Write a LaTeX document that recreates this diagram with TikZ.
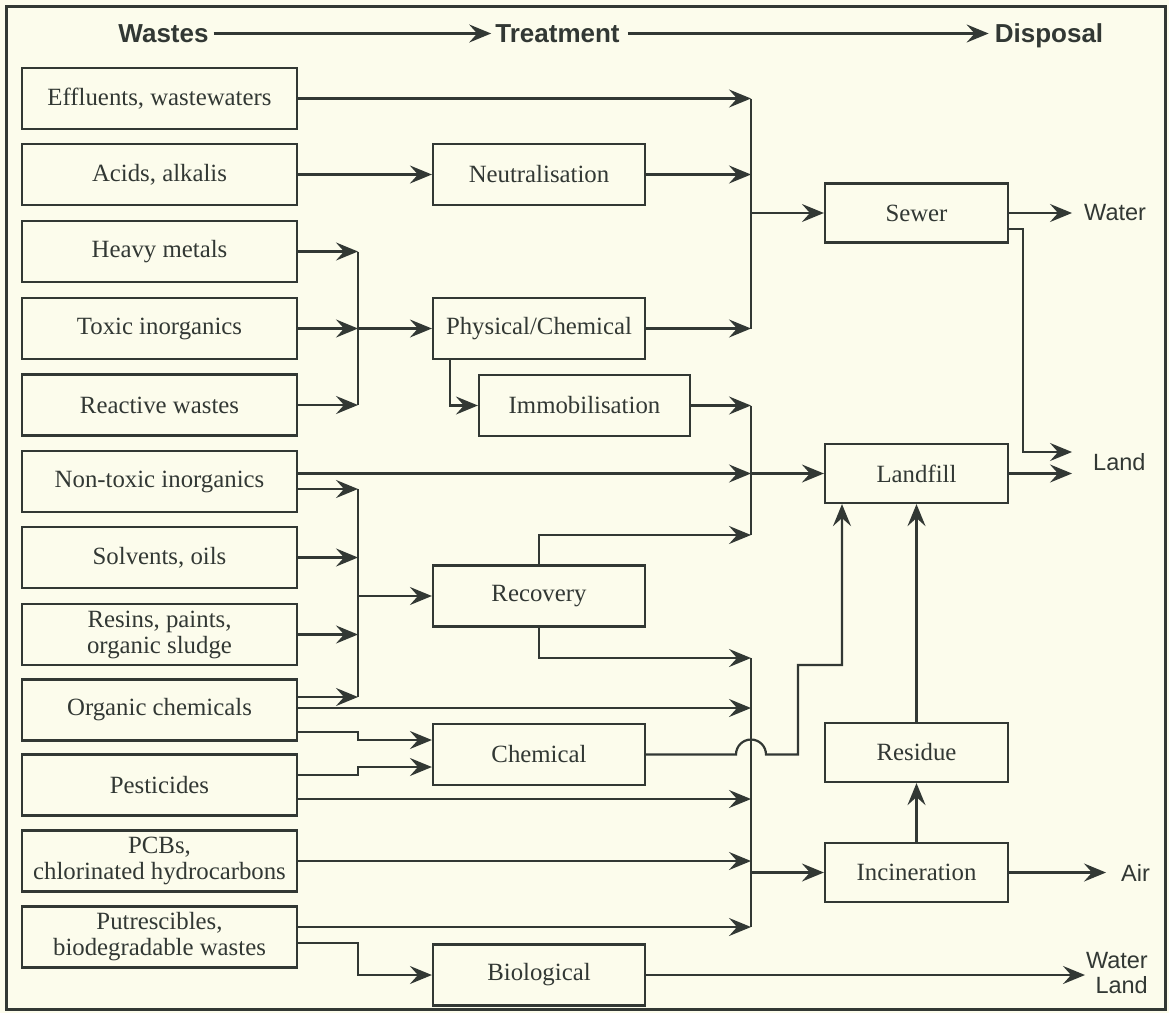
\documentclass[tikz,border=0pt]{standalone}
\usepackage{fontspec}
\setmainfont{Liberation Serif}
\setsansfont{Liberation Sans}
\usetikzlibrary{arrows.meta}
\definecolor{ink}{RGB}{50,56,52}
\definecolor{paper}{RGB}{252,252,236}
\begin{document}
\begin{tikzpicture}[x=1pt,y=-1pt,
  every node/.style={text=ink},
  box/.style={draw=ink, line width=2.2pt, align=center, inner sep=0pt,
    font=\fontsize{24.8}{26}\selectfont},
  wbox/.style={box, minimum width=275pt, minimum height=61pt},
  tbox/.style={box, minimum width=212pt, minimum height=61pt},
  dbox/.style={box, minimum width=183pt, minimum height=59pt},
  head/.style={font=\sffamily\bfseries\fontsize{26}{28}\selectfont, inner sep=0pt,
    text height=18.5pt, text depth=0pt},
  sink/.style={font=\sffamily\fontsize{23.5}{25}\selectfont, inner sep=0pt, align=right},
  wire/.style={draw=ink, line width=2.2pt},
  flow/.style={wire, -{Stealth[length=22pt,width=18pt,inset=8pt]}}
]
\useasboundingbox (0,0) rectangle (1169,1013);
\fill[paper] (0,0) rectangle (1169,1013);
\draw[ink, line width=3pt] (6,6) rectangle (1165,1009);

% headers
\node[head] (hw) at (163.5,33.5) {Wastes};
\node[head] (ht) at (557.5,33.5) {Treatment};
\node[head] (hd) at (1049,33.5) {Disposal};
\draw[flow, shorten <=5pt, shorten >=4pt] (hw.east) -- (ht.west);
\draw[flow, shorten <=8pt, shorten >=6pt] (ht.east) -- (hd.west);

% waste boxes
\node[wbox] (w1)  at (159.5,98.5)  {Effluents, wastewaters};
\node[wbox] (w2)  at (159.5,174.5) {Acids, alkalis};
\node[wbox] (w3)  at (159.5,251.5) {Heavy metals};
\node[wbox] (w4)  at (159.5,328.5) {Toxic inorganics};
\node[wbox] (w5)  at (159.5,405)   {Reactive wastes};
\node[wbox] (w6)  at (159.5,481.5) {Non-toxic inorganics};
\node[wbox] (w7)  at (159.5,557.5) {Solvents, oils};
\node[wbox] (w8)  at (159.5,634.5) {Resins, paints,\\organic sludge};
\node[wbox] (w9)  at (159.5,710)   {Organic chemicals};
\node[wbox] (w10) at (159.5,785)   {Pesticides};
\node[wbox] (w11) at (159.5,861)   {PCBs,\\chlorinated hydrocarbons};
\node[wbox] (w12) at (159.5,937)   {Putrescibles,\\biodegradable wastes};

% treatment boxes
\node[tbox] (neut) at (539,174.5) {Neutralisation};
\node[tbox] (phys) at (539,328.5) {Physical/Chemical};
\node[tbox, minimum width=211pt] (immo) at (584.5,405.5) {Immobilisation};
\node[tbox] (reco) at (539,596) {Recovery};
\node[tbox] (chem) at (539,754.5) {Chemical};
\node[tbox] (bio)  at (539,975) {Biological};

% disposal boxes
\node[dbox] (sewer) at (916.5,213)   {Sewer};
\node[dbox] (land)  at (916.5,473.5) {Landfill};
\node[dbox] (resid) at (916.5,752.5) {Residue};
\node[dbox] (incin) at (916.5,872.5) {Incineration};

% sinks
\node[sink, anchor=west] (water) at (1084,213) {Water};
\node[sink, anchor=west] (landl) at (1093,462) {Land};
\node[sink, anchor=west] (air)   at (1121,872.5) {Air};
\node[sink, anchor=east] (wl)    at (1148,973.5) {Water\\Land};

% collector x positions
\coordinate (cA) at (751,0);
\coordinate (cB) at (358,0);

% collector A -> sewer
\draw[flow] (w1.east) -- (w1.east -| cA);
\draw[flow] (w2.east) -- (neut.west);
\draw[flow] (neut.east) -- (neut.east -| cA);
\draw[flow] (phys.east) -- (phys.east -| cA);
\draw[wire] (w1.east -| cA) -- (phys.east -| cA);
\draw[flow] (sewer.west -| cA) -- (sewer.west);

% collector B -> physical/chemical
\draw[flow] (w3.east) -- (w3.east -| cB);
\draw[flow] (w4.east) -- (w4.east -| cB);
\draw[flow] (w5.east) -- (w5.east -| cB);
\draw[wire] (w3.east -| cB) -- (w5.east -| cB);
\draw[flow] (phys.west -| cB) -- (phys.west);
\draw[flow] (phys.south -| 450,0) |- (immo.west);

% collector A (lower) -> landfill
\coordinate (rtop) at (751,535);
\draw[flow] (immo.east) -- (immo.east -| cA);
\draw[flow] (w6.east |- land.west) -- (land.west -| cA);
\draw[flow] (land.west -| cA) -- (land.west);
\draw[flow] (reco.north) |- (rtop);
\draw[wire] (immo.east -| cA) -- (rtop);

% collector B (lower) -> recovery
\coordinate (d1) at (358,489);
\coordinate (d4) at (358,697);
\draw[flow] (w6.east |- d1) -- (d1);
\draw[flow] (w7.east) -- (w7.east -| cB);
\draw[flow] (w8.east) -- (w8.east -| cB);
\draw[flow] (w9.east |- d4) -- (d4);
\draw[wire] (d1) -- (d4);
\draw[flow] (reco.west -| cB) -- (reco.west);

% collector -> incineration
\coordinate (e1) at (751,658);
\coordinate (e2) at (751,708);
\coordinate (e3) at (751,799);
\coordinate (e5) at (751,927);
\draw[flow] (reco.south) |- (e1);
\draw[flow] (w9.east |- e2) -- (e2);
\draw[flow] (w10.east |- e3) -- (e3);
\draw[flow] (w11.east) -- (w11.east -| cA);
\draw[flow] (w12.east |- e5) -- (e5);
\draw[wire] (e1) -- (e5);
\draw[flow] (incin.west -| cA) -- (incin.west);

% chemical treatment
\draw[flow] (w9.east |- 0,732) -- (cB |- 0,732) -- (cB |- 0,740) -- (chem.west |- 0,740);
\draw[flow] (w10.east |- 0,775) -- (cB |- 0,775) -- (cB |- 0,767) -- (chem.west |- 0,767);
\draw[flow] (chem.east) -- (736,754.5) arc[start angle=180, end angle=0, radius=15pt]
  -- (798,754.5) -- (798,665) -| (land.south -| 842,0);

% disposal flows
\draw[flow] (resid) -- (land);
\draw[flow] (incin) -- (resid);
\draw[flow, shorten >=15pt] (incin.east) -- (air.west);
\draw[flow, shorten >=12pt] (sewer.east) -- (water.west);
\draw[flow] ([yshift=-16pt]sewer.east) -- (1023,229) -- (1023,452) -- (1072,452);
\draw[flow] (land.east) -- (land.east -| 1072,0);

% biological
\draw[flow] (w12.east |- 0,943) -- (cB |- 0,943) |- (bio.west);
\draw[flow] (bio.east) -- (bio.east -| 1085,0);
\end{tikzpicture}
\end{document}
